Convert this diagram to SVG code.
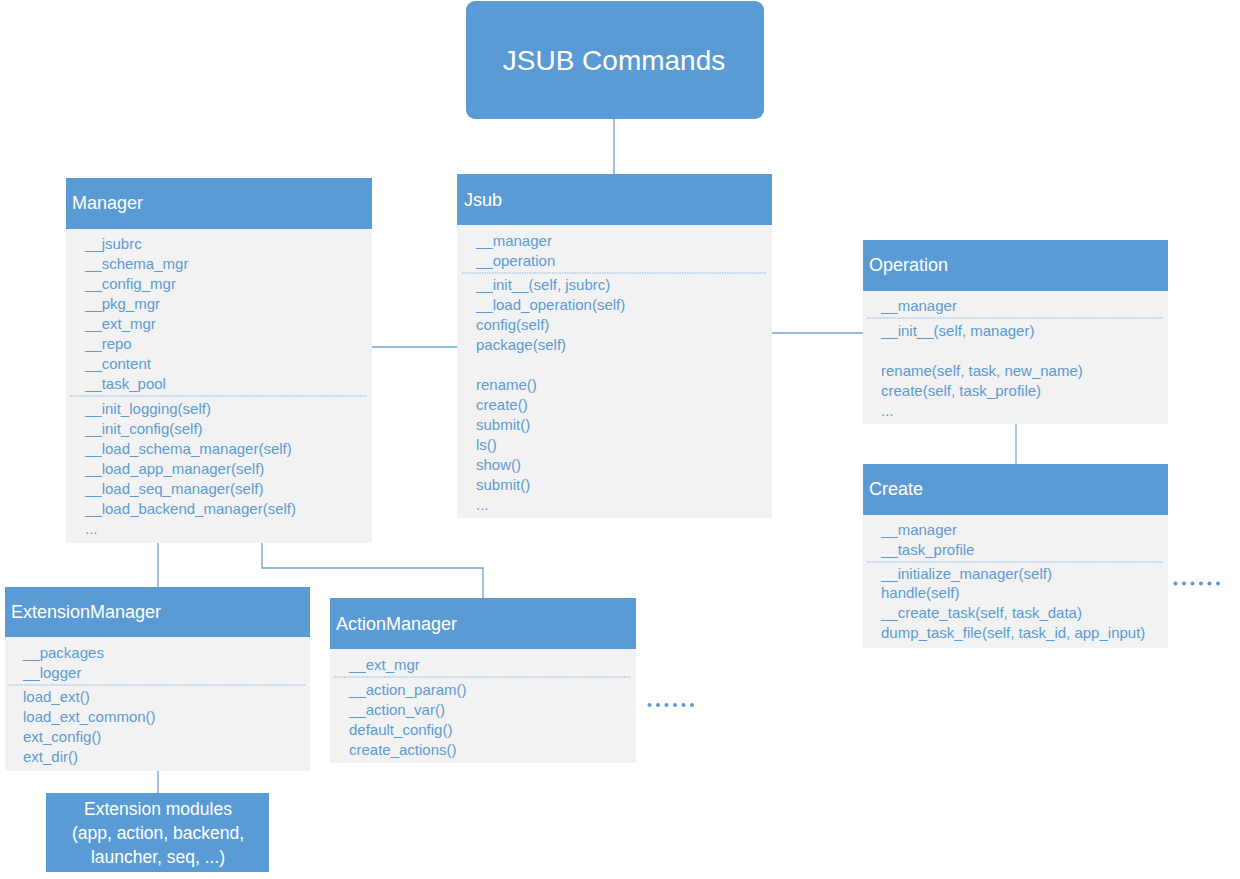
<svg xmlns="http://www.w3.org/2000/svg" width="1240" height="879" viewBox="0 0 1240 879">
<style>
.hd{fill:#5b9bd5}
.bd{fill:#f2f2f2}
.ttl{font-family:"Liberation Sans",Arial,sans-serif;font-size:18px;fill:#ffffff}
.t{font-family:"Liberation Sans",Arial,sans-serif;font-size:15px;fill:#5b9bd5}
.sep{stroke:#8fb4dc;stroke-width:1;stroke-dasharray:1.5 1;fill:none}
.c{stroke:#6fa4d6;stroke-width:1.3;fill:none}
.dot{fill:#5b9bd5}
.em{font-family:"Liberation Sans",Arial,sans-serif;font-size:17.5px;fill:#ffffff}
</style>
<rect width="1240" height="879" fill="#ffffff"/>
<g id="connectors">
<line class="c" x1="614" y1="119" x2="614" y2="174"/>
<line class="c" x1="372" y1="347" x2="457" y2="347"/>
<line class="c" x1="772" y1="333" x2="863" y2="333"/>
<line class="c" x1="1016" y1="424" x2="1016" y2="464"/>
<line class="c" x1="158" y1="543" x2="158" y2="587"/>
<polyline class="c" points="262,543 262,568 483,568 483,598"/>
<line class="c" x1="158" y1="771" x2="158" y2="793"/>
</g>
<g id="jsub-commands">
<rect x="466" y="1" width="298" height="118" rx="9" class="hd"/>
<text x="614" y="70" text-anchor="middle" font-family="Liberation Sans,Arial,sans-serif" font-size="28" fill="#ffffff">JSUB Commands</text>
</g>
<g id="manager">
<rect x="66" y="229" width="306" height="314" class="bd"/>
<rect x="66" y="178" width="306" height="51" class="hd"/>
<text x="72" y="209" class="ttl">Manager</text>
<text class="t" x="85" y="249">__jsubrc</text>
<text class="t" x="85" y="269">__schema_mgr</text>
<text class="t" x="85" y="289">__config_mgr</text>
<text class="t" x="85" y="309">__pkg_mgr</text>
<text class="t" x="85" y="329">__ext_mgr</text>
<text class="t" x="85" y="349">__repo</text>
<text class="t" x="85" y="369">__content</text>
<text class="t" x="85" y="389">__task_pool</text>
<line class="sep" x1="70" y1="396" x2="367" y2="396"/>
<text class="t" x="85" y="414">__init_logging(self)</text>
<text class="t" x="85" y="434">__init_config(self)</text>
<text class="t" x="85" y="454">__load_schema_manager(self)</text>
<text class="t" x="85" y="474">__load_app_manager(self)</text>
<text class="t" x="85" y="494">__load_seq_manager(self)</text>
<text class="t" x="85" y="514">__load_backend_manager(self)</text>
<text class="t" x="85" y="534">...</text>
</g>
<g id="jsub">
<rect x="457" y="225" width="315" height="293" class="bd"/>
<rect x="457" y="174" width="315" height="51" class="hd"/>
<text x="464" y="206" class="ttl">Jsub</text>
<text class="t" x="476" y="246">__manager</text>
<text class="t" x="476" y="266">__operation</text>
<line class="sep" x1="462" y1="273" x2="767" y2="273"/>
<text class="t" x="476" y="290">__init__(self, jsubrc)</text>
<text class="t" x="476" y="310">__load_operation(self)</text>
<text class="t" x="476" y="330">config(self)</text>
<text class="t" x="476" y="350">package(self)</text>
<text class="t" x="476" y="390">rename()</text>
<text class="t" x="476" y="410">create()</text>
<text class="t" x="476" y="430">submit()</text>
<text class="t" x="476" y="450">ls()</text>
<text class="t" x="476" y="470">show()</text>
<text class="t" x="476" y="490">submit()</text>
<text class="t" x="476" y="510">...</text>
</g>
<g id="operation">
<rect x="863" y="291" width="305" height="133" class="bd"/>
<rect x="863" y="240" width="305" height="51" class="hd"/>
<text x="869" y="271" class="ttl">Operation</text>
<text class="t" x="881" y="311">__manager</text>
<line class="sep" x1="867" y1="318" x2="1163" y2="318"/>
<text class="t" x="881" y="336">__init__(self, manager)</text>
<text class="t" x="881" y="376">rename(self, task, new_name)</text>
<text class="t" x="881" y="396">create(self, task_profile)</text>
<text class="t" x="881" y="416">...</text>
</g>
<g id="create">
<rect x="863" y="515" width="305" height="133" class="bd"/>
<rect x="863" y="464" width="305" height="51" class="hd"/>
<text x="869" y="495" class="ttl">Create</text>
<text class="t" x="881" y="535">__manager</text>
<text class="t" x="881" y="555">__task_profile</text>
<line class="sep" x1="867" y1="562" x2="1163" y2="562"/>
<text class="t" x="881" y="579">__initialize_manager(self)</text>
<text class="t" x="881" y="598">handle(self)</text>
<text class="t" x="881" y="618">__create_task(self, task_data)</text>
<text class="t" x="881" y="638">dump_task_file(self, task_id, app_input)</text>
</g>
<g id="create-more">
<circle class="dot" cx="1175.5" cy="583.5" r="2"/>
<circle class="dot" cx="1184" cy="583.5" r="2"/>
<circle class="dot" cx="1192.5" cy="583.5" r="2"/>
<circle class="dot" cx="1201" cy="583.5" r="2"/>
<circle class="dot" cx="1209.5" cy="583.5" r="2"/>
<circle class="dot" cx="1218" cy="583.5" r="2"/>
</g>
<g id="extension-manager">
<rect x="5" y="637" width="305" height="134" class="bd"/>
<rect x="5" y="587" width="305" height="50" class="hd"/>
<text x="11" y="618" class="ttl">ExtensionManager</text>
<text class="t" x="23" y="658">__packages</text>
<text class="t" x="23" y="678">__logger</text>
<line class="sep" x1="9" y1="685" x2="305" y2="685"/>
<text class="t" x="23" y="702">load_ext()</text>
<text class="t" x="23" y="722">load_ext_common()</text>
<text class="t" x="23" y="742">ext_config()</text>
<text class="t" x="23" y="762">ext_dir()</text>
</g>
<g id="action-manager">
<rect x="330" y="649" width="306" height="114" class="bd"/>
<rect x="330" y="598" width="306" height="51" class="hd"/>
<text x="336" y="630" class="ttl">ActionManager</text>
<text class="t" x="349" y="670">__ext_mgr</text>
<line class="sep" x1="334" y1="677" x2="631" y2="677"/>
<text class="t" x="349" y="695">__action_param()</text>
<text class="t" x="349" y="715">__action_var()</text>
<text class="t" x="349" y="735">default_config()</text>
<text class="t" x="349" y="755">create_actions()</text>
</g>
<g id="action-more">
<circle class="dot" cx="649.5" cy="705" r="2"/>
<circle class="dot" cx="658" cy="705" r="2"/>
<circle class="dot" cx="666.5" cy="705" r="2"/>
<circle class="dot" cx="675" cy="705" r="2"/>
<circle class="dot" cx="683.5" cy="705" r="2"/>
<circle class="dot" cx="692" cy="705" r="2"/>
</g>
<g id="extension-modules">
<rect x="46" y="793" width="223" height="79" class="hd"/>
<text x="158" y="815" text-anchor="middle" class="em">Extension modules</text>
<text x="158" y="839" text-anchor="middle" class="em">(app, action, backend,</text>
<text x="158" y="863" text-anchor="middle" class="em">launcher, seq, ...)</text>
</g>
</svg>
